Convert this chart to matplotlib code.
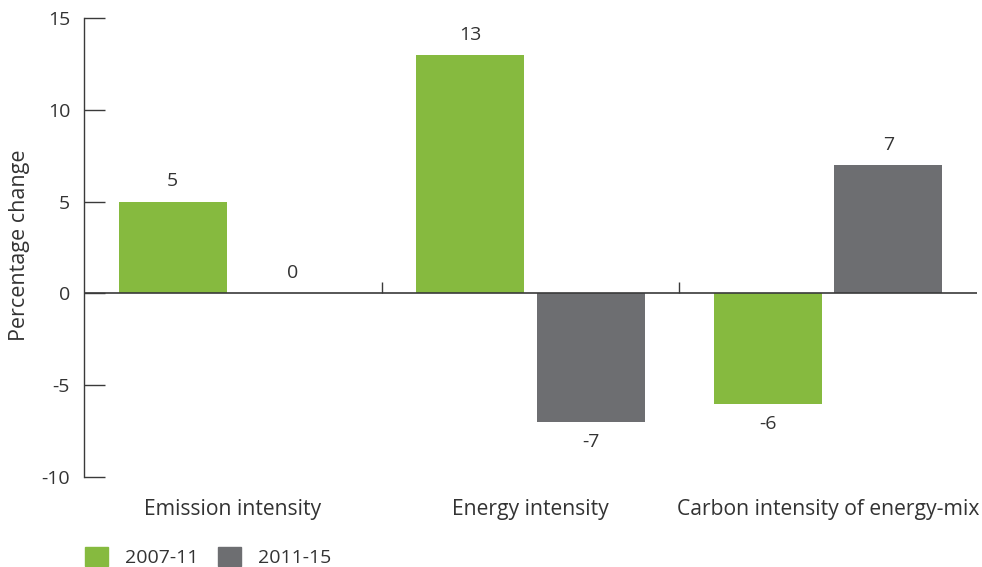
import numpy as np
import matplotlib
matplotlib.use("Agg")
import matplotlib.pyplot as plt
from matplotlib.patches import Patch

plt.rcParams['font.family'] = ['Open Sans', 'DejaVu Sans']

categories = ['Emission intensity', 'Energy intensity', 'Carbon intensity of energy-mix']
series_names = ['2007-11', '2011-15']
values_0711 = [5, 13, -6]
values_1115 = [0, -7, 7]
yticks = [-10, -5, 0, 5, 10, 15]

green = '#86BA3F'
grey = '#6D6E71'
text_col = '#333333'
line_col = '#3a3a3a'
fs = 14

fig = plt.figure(figsize=(9.82, 5.67), dpi=100)
ax = fig.add_axes([84/982, 1 - 477/567, (977 - 84)/982, (477 - 18)/567])

x = np.arange(len(categories))
width = 0.363
off = 0.2017

bars1 = ax.bar(x - off, values_0711, width, color=green)
bars2 = ax.bar(x + off, values_1115, width, color=grey)

for bars, vals in [(bars1, values_0711), (bars2, values_1115)]:
    for b, v in zip(bars, vals):
        cx = b.get_x() + b.get_width() / 2
        if v >= 0:
            ax.annotate(str(v), (cx, v), xytext=(0, 8), textcoords='offset points',
                        ha='center', va='bottom', fontsize=fs, color=text_col)
        else:
            ax.annotate(str(v), (cx, v), xytext=(0, -8), textcoords='offset points',
                        ha='center', va='top', fontsize=fs, color=text_col)

ax.axhline(0, color=line_col, lw=1.2, zorder=3)
ax.vlines([0.5, 1.5], 0, 0.6, color=line_col, lw=1.0, zorder=3)

ax.set_xlim(-0.5, 2.5)
ax.set_ylim(-10, 15)
ax.set_yticks(yticks)
ax.set_yticklabels([str(t) for t in yticks])
ax.set_xticks(x)
ax.set_xticklabels(categories)

for s in ['top', 'right', 'bottom']:
    ax.spines[s].set_visible(False)
ax.spines['left'].set_color(line_col)
ax.spines['left'].set_linewidth(1.0)

ax.tick_params(axis='y', direction='in', length=15, width=1.0, color=line_col,
               labelsize=fs, labelcolor=text_col, pad=10)
ax.tick_params(axis='x', length=0, labelsize=15.2, labelcolor=text_col, pad=16)

fig.text(20/982, 1 - 245/567, 'Percentage change', rotation=90, ha='center', va='center',
         fontsize=15.5, color=text_col)

handles = [Patch(color=green, label=series_names[0]), Patch(color=grey, label=series_names[1])]
fig.legend(handles=handles, loc='center left', bbox_to_anchor=(85/982, 1 - 557/567),
           ncol=2, frameon=False, fontsize=fs, handlelength=1.18, handleheight=1.18,
           handletextpad=0.88, columnspacing=1.0, borderpad=0, borderaxespad=0,
           labelcolor=text_col)

fig.savefig('out.png', dpi=100)
